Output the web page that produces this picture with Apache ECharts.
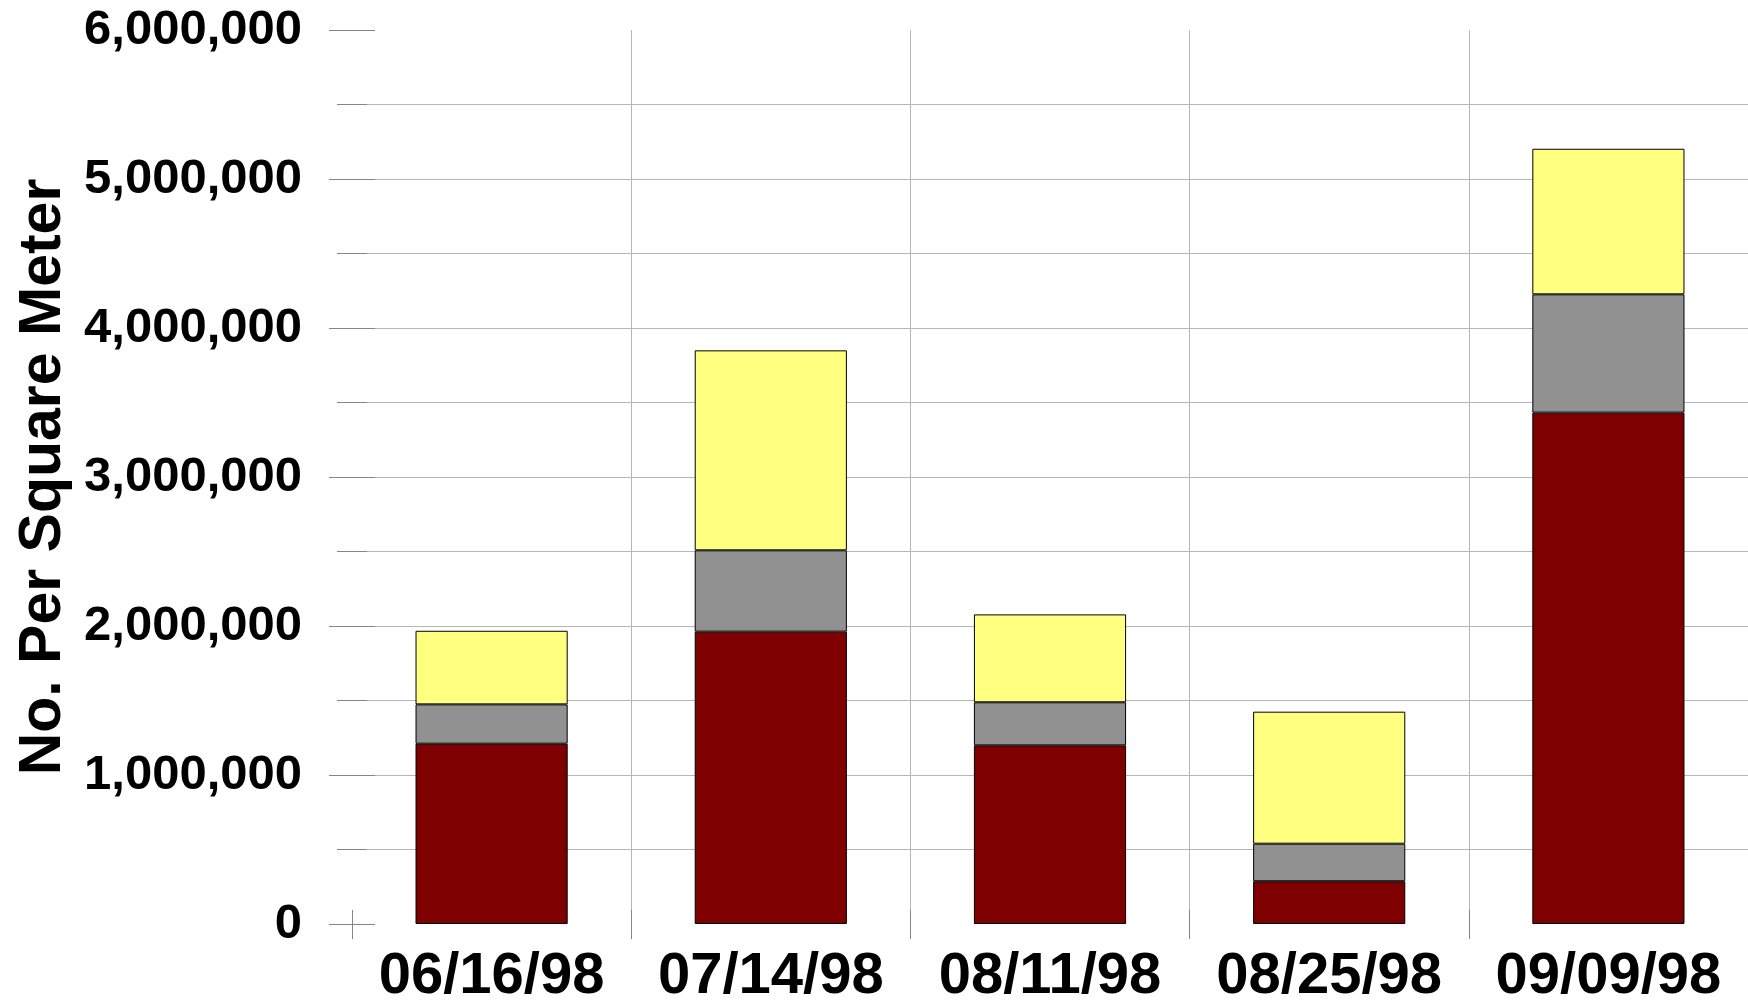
<!DOCTYPE html>
<html>
<head>
<meta charset="utf-8">
<title>No. Per Square Meter</title>
<script src="https://cdn.jsdelivr.net/npm/echarts@6/dist/echarts.min.js"></script>
<style>
  html, body { margin: 0; padding: 0; background: #ffffff; }
  #chart { width: 1748px; height: 1000px; }
</style>
</head>
<body>
<div id="chart"></div>
<script>
// Sampling dates
const dates = ['06/16/98', '07/14/98', '08/11/98', '08/25/98', '09/09/98'];

// Stacked counts per square meter, bottom to top
const seriesRed = [1210000, 1962000, 1199000, 287000, 3432000];
const seriesGray = [264000, 546000, 289000, 252000, 794000];
const seriesYellow = [494000, 1342000, 590000, 886000, 977000];

const yMin = 0;
const yMax = 6000000;
const yStep = 1000000;
const yTitle = 'No. Per Square Meter';

const FONT = '"Liberation Sans", Arial, Helvetica, sans-serif';
const TICK = '#858585';
const GRID = '#b6b6b6';

function withCommas(v) {
  return String(Math.round(v)).replace(/\B(?=(\d{3})+(?!\d))/g, ',');
}

const chart = echarts.init(document.getElementById('chart'), null, { renderer: 'canvas' });

function barSeries(name, data, color) {
  return {
    name: name,
    type: 'bar',
    stack: 'total',
    xAxisIndex: 0,
    yAxisIndex: 0,
    barWidth: '54.5%',
    data: data,
    itemStyle: { color: color, borderColor: '#000000', borderWidth: 1 },
    emphasis: { disabled: true },
    animation: false
  };
}

chart.setOption({
  backgroundColor: '#ffffff',
  animation: false,
  grid: { left: 352, right: 0, top: 30, bottom: 76, containLabel: false, outerBoundsMode: 'none' },
  xAxis: [
    {
      type: 'category',
      data: dates,
      position: 'bottom',
      boundaryGap: true,
      axisLine: { show: false },
      axisTick: { show: true, inside: false, length: 15, alignWithLabel: false,
                  lineStyle: { color: TICK, width: 1 } },
      axisLabel: { show: true, margin: 24, color: '#000000', fontFamily: FONT,
                   fontWeight: 'bold', fontSize: 58, interval: 0 },
      splitLine: { show: true, interval: 0, showMinLine: false, showMaxLine: false,
                   lineStyle: { color: GRID, width: 1 } }
    },
    {
      type: 'category',
      data: dates,
      position: 'bottom',
      boundaryGap: true,
      axisLine: { show: false },
      axisTick: { show: true, inside: true, length: 14, lineStyle: { color: TICK, width: 1 } },
      axisLabel: { show: false },
      splitLine: { show: false }
    }
  ],
  yAxis: [
    {
      type: 'value',
      position: 'left',
      min: yMin,
      max: yMax,
      interval: yStep,
      name: yTitle,
      nameLocation: 'middle',
      nameGap: 275,
      nameRotate: 90,
      nameTextStyle: { color: '#000000', fontFamily: FONT, fontWeight: 'bold', fontSize: 59 },
      axisLine: { show: false },
      axisTick: { show: true, inside: false, length: 23, lineStyle: { color: TICK, width: 1 } },
      minorTick: { show: true, splitNumber: 2, length: 15, lineStyle: { color: TICK, width: 1 } },
      axisLabel: { show: true, margin: 50, color: '#000000', fontFamily: FONT,
                   fontWeight: 'bold', fontSize: 49, padding: [4, 0, 0, 0],
                   formatter: withCommas },
      splitLine: { show: true, showMinLine: false, showMaxLine: false,
                   lineStyle: { color: GRID, width: 1 } },
      minorSplitLine: { show: true, lineStyle: { color: GRID, width: 1 } }
    },
    {
      type: 'value',
      position: 'left',
      min: yMin,
      max: yMax,
      interval: yStep,
      axisLine: { show: false },
      axisTick: { show: true, inside: true, length: 23, lineStyle: { color: TICK, width: 1 } },
      minorTick: { show: true, splitNumber: 2, length: 15, lineStyle: { color: TICK, width: 1 } },
      axisLabel: { show: false },
      splitLine: { show: false }
    }
  ],
  series: [
    barSeries('red', seriesRed, '#7f0000'),
    barSeries('gray', seriesGray, '#919191'),
    barSeries('yellow', seriesYellow, '#ffff80')
  ]
});
</script>
</body>
</html>
